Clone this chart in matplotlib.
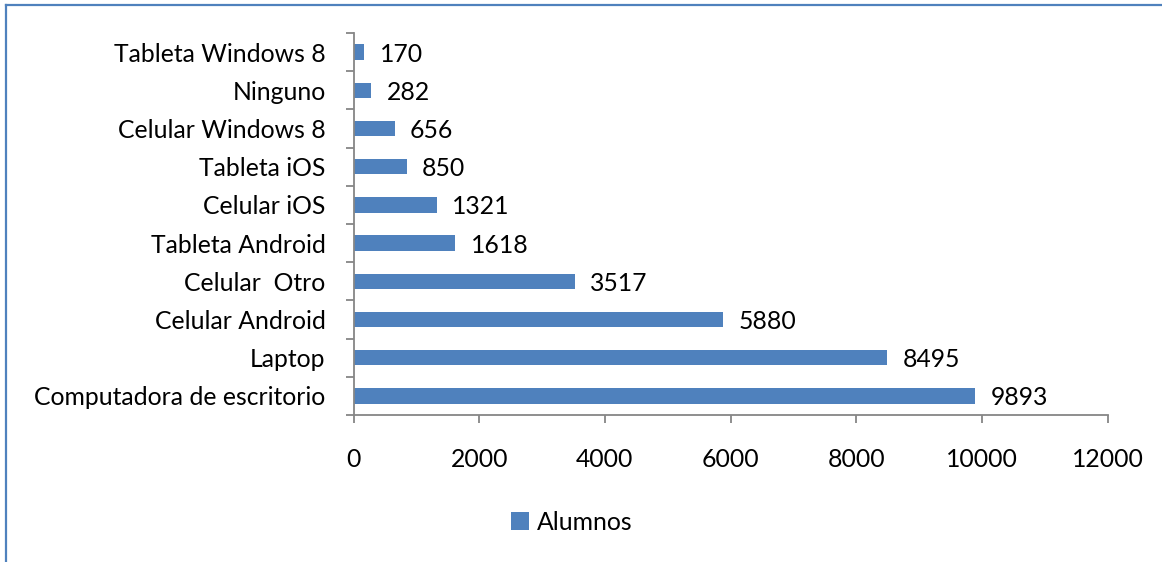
import matplotlib.pyplot as plt
from matplotlib.lines import Line2D
import numpy as np

categorias = ["Computadora de escritorio", "Laptop", "Celular Android",
              "Celular  Otro", "Tableta Android", "Celular iOS",
              "Tableta iOS", "Celular Windows 8", "Ninguno",
              "Tableta Windows 8"]
alumnos = [9893, 8495, 5880, 3517, 1618, 1321, 850, 656, 282, 170]
x_ticks = [0, 2000, 4000, 6000, 8000, 10000, 12000]

azul = "#4F81BD"
gris = "#868686"
fs = 17.8

plt.rcParams['font.family'] = ['Lato', 'DejaVu Sans']

fig = plt.figure(figsize=(11.62, 5.62), dpi=100)
ax = fig.add_axes([353.5 / 1162, 1 - 415 / 562, (1107.7 - 353.5) / 1162,
                   (415 - 33) / 562])

y = np.arange(len(categorias))
bars = ax.barh(y, alumnos, height=0.4, color=azul, label="Alumnos")

for yi, v in zip(y, alumnos):
    ax.annotate(str(v), (v, yi), xytext=(11, -1.5), textcoords="offset points",
                va="center", ha="left", fontsize=fs, color="black")

ax.set_xlim(0, 12000)
ax.set_ylim(-0.5, len(categorias) - 0.5)
ax.set_xticks(x_ticks)
ax.set_xticklabels([str(t) for t in x_ticks], fontsize=fs)
ax.set_yticks(y)
ax.set_yticklabels(categorias, fontsize=fs)
ax.set_yticks(np.arange(-0.5, len(categorias)), minor=True)

ax.tick_params(axis='y', which='major', length=0, pad=20)
ax.tick_params(axis='y', which='minor', length=6, width=1.3, color=gris,
               direction='out')
ax.tick_params(axis='x', length=6, width=1.3, color=gris, pad=18,
               direction='out')

for side in ['top', 'right']:
    ax.spines[side].set_visible(False)
for side in ['left', 'bottom']:
    ax.spines[side].set_color(gris)
    ax.spines[side].set_linewidth(1.3)

fig.legend(handles=[bars], loc='center', bbox_to_anchor=(0.492, 0.071),
           frameon=False, fontsize=fs, handlelength=0.72, handleheight=0.72,
           handletextpad=0.3)

# marco del grafico
fig.add_artist(Line2D([6 / 1162, 6 / 1162], [0, 1 - 5 / 562],
                      color=azul, linewidth=1.6, transform=fig.transFigure))
fig.add_artist(Line2D([6 / 1162, 1], [1 - 5 / 562, 1 - 5 / 562],
                      color=azul, linewidth=1.6, transform=fig.transFigure))

fig.savefig("out.png", dpi=100)
